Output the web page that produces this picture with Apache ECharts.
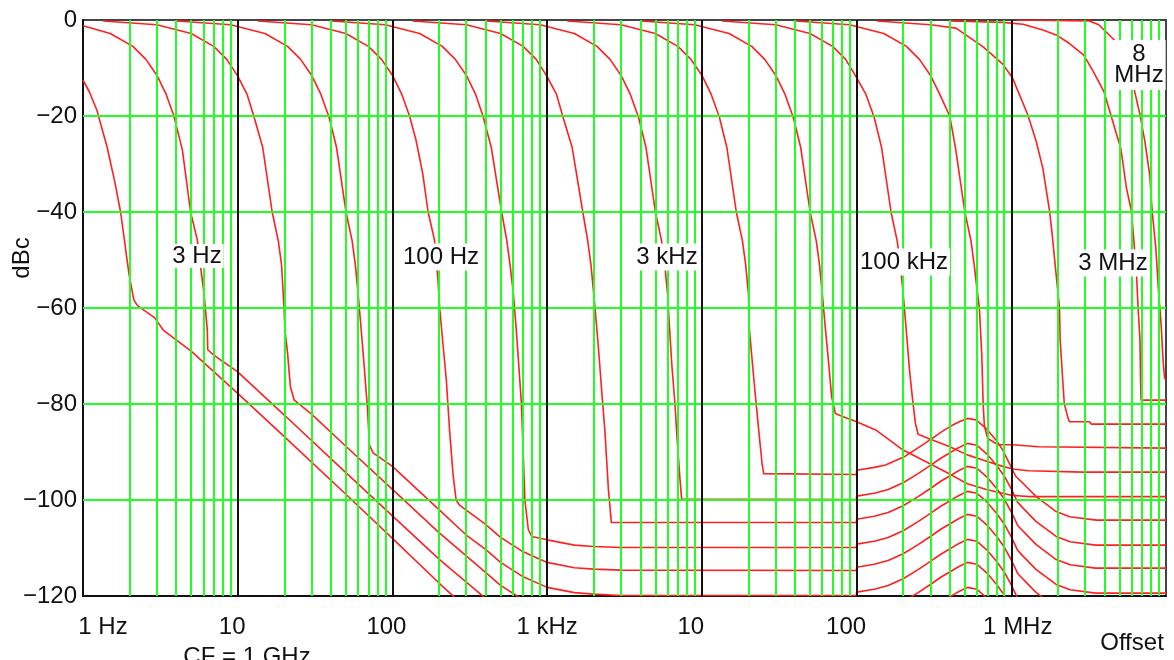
<!DOCTYPE html>
<html><head><meta charset="utf-8">
<script src="https://cdn.jsdelivr.net/npm/echarts@6.0.0/dist/echarts.min.js"></script>
<style>html,body{margin:0;padding:0;background:#fff}#c{width:1174px;height:660px}</style>
</head><body><div id="c"></div>
<script>
// ---- tick labels / grid values ----
const xTickLabels = ['1 Hz', '10', '100', '1 kHz', '10', '100', '1 MHz', ''];
const yTicks = [0, -20, -40, -60, -80, -100, -120];
const hGridValues = [-20, -40, -60, -80, -100];
const decadeStarts = [1, 10, 100, 1e3, 1e4, 1e5, 1e6];
const minorMultipliers = [2, 3, 4, 5, 6, 7, 8, 9];
const majorGridValues = [10, 100, 1e3, 1e4, 1e5, 1e6];

// ---- curves: [offset Hz, dBc] ----
const c1Hz = [[1,-12.5],[1.1,-15],[1.23,-18.8],[1.43,-26.4],[1.6,-33.5],[1.75,-40],[1.98,-52.8],[2.13,-58.3],[2.25,-59.5],[2.9,-62],[3.3,-64.6],[5,-69],[10,-77.8],[20,-86.8],[50,-98.8],[100,-108],[200,-117.3],[300,-122.5]];
const c3Hz = [[1,-1.2],[1.5,-2.8],[2.1,-5.5],[2.55,-8.2],[3,-11.5],[3.45,-15.5],[3.87,-20],[4.39,-27.1],[4.96,-40],[5.48,-45.8],[5.75,-51.4],[6.05,-56.9],[6.36,-64.6],[6.4,-68.7],[7,-69.8],[10,-73.3],[20,-82.3],[50,-94.3],[100,-103.3],[200,-112.3],[400,-120.5],[600,-123.5],[1000,-128.2],[3000,-129.9],[100000,-129.9],[200000,-126.4],[300000,-122.8],[400000,-120.2],[450000,-119.2],[520000,-118.2],[600000,-118.6],[700000,-120.5],[800000,-122.7],[1000000,-127.7],[2000000,-137.6],[10000000,-139.4]];
const c10Hz = [[1.35,-0.2],[3,-1],[5,-2.8],[7,-5.5],[8.5,-8.2],[10,-11.7],[11.5,-15.5],[12.7,-20],[14.5,-26.5],[16.7,-40],[18.3,-46],[19.2,-51],[19.9,-59.7],[20.2,-64.6],[21,-69.4],[21.9,-76.4],[23.2,-79.2],[30,-82.1],[50,-88.8],[100,-97.8],[200,-106.8],[400,-115.1],[500,-117.8],[700,-120.8],[1000,-123],[2000,-124.4],[3000,-124.6],[100000,-124.7],[200000,-121.2],[250000,-119.3],[300000,-117.6],[350000,-116.1],[400000,-115],[450000,-114],[520000,-113],[600000,-113.4],[700000,-115.3],[800000,-117.5],[900000,-119.8],[1000000,-122.5],[1200000,-126.6]];
const c30Hz = [[4.05,-0.2],[9,-1],[15,-2.8],[21,-5.5],[25.5,-8.2],[30,-11.5],[34.5,-15.5],[39,-20.3],[43.5,-26.5],[50.1,-40],[54.9,-46],[57.6,-51],[60,-57],[63,-65],[66,-73],[69,-81],[71,-88.5],[75,-90.2],[100,-93],[200,-102],[300,-107.3],[400,-110.3],[500,-113],[700,-116],[1000,-118.2],[1500,-119.3],[2000,-119.6],[3000,-119.9],[100000,-119.9],[100000,-119.2],[130000,-118.6],[160000,-117.8],[200000,-116.4],[250000,-114.5],[300000,-112.8],[350000,-111.3],[400000,-110.2],[450000,-109.2],[520000,-108.2],[600000,-108.6],[700000,-110.5],[800000,-112.7],[900000,-115],[1000000,-117.7],[1100000,-120.5],[1200000,-121.8],[1450000,-124.5]];
const c100Hz = [[13.5,-0.2],[30,-1],[50,-2.8],[70,-5.5],[85,-8.2],[100,-11.5],[115,-15.5],[129,-20],[142,-25],[157,-32],[170,-40],[187,-45.8],[192,-50],[197,-54.2],[202,-60],[212,-67.4],[223,-75],[234,-85.4],[246,-94.4],[258,-100],[270,-101],[300,-102.1],[400,-105.1],[500,-107.8],[700,-110.8],[1000,-113],[1500,-114.1],[2000,-114.4],[3000,-114.6],[100000,-114.7],[100000,-114],[130000,-113.4],[160000,-112.6],[200000,-111.2],[250000,-109.3],[300000,-107.6],[350000,-106.1],[400000,-105],[450000,-104],[520000,-103],[600000,-103.4],[700000,-105.3],[800000,-107.5],[900000,-109.8],[1000000,-112.5],[1100000,-115.3],[1200000,-116.6],[1450000,-119.3],[1950000,-122.4]];
const c300Hz = [[40.5,-0.2],[90,-1],[150,-2.8],[210,-5.5],[255,-8.2],[300,-11.5],[345,-15.5],[385,-20],[435,-26.5],[508,-40],[549,-46],[576,-51],[605,-57],[632,-64.6],[682,-79.9],[700,-90],[718,-100],[756,-106.2],[795,-107.6],[1000,-108.3],[1500,-109.4],[2000,-109.7],[3000,-109.9],[100000,-109.9],[100000,-109.2],[130000,-108.6],[160000,-107.8],[200000,-106.4],[250000,-104.5],[300000,-102.8],[350000,-101.3],[400000,-100.2],[450000,-99.2],[520000,-98.2],[600000,-98.6],[700000,-100.5],[800000,-102.7],[900000,-105],[1000000,-107.7],[1100000,-110.5],[1200000,-111.8],[1450000,-114.5],[1950000,-117.6],[2400000,-118.7],[3500000,-119.4],[10000000,-119.4]];
const c1kHz = [[135,-0.2],[300,-1],[500,-2.8],[700,-5.5],[850,-8.2],[1000,-11.8],[1150,-15.5],[1260,-20],[1450,-26.5],[1700,-40],[1830,-46],[1920,-51],[2040,-60],[2150,-68.7],[2250,-77.1],[2360,-85.4],[2490,-97.9],[2600,-104.7],[100000,-104.7],[100000,-104],[130000,-103.4],[160000,-102.6],[200000,-101.2],[250000,-99.3],[300000,-97.6],[350000,-96.1],[400000,-95],[450000,-94],[520000,-93],[600000,-93.4],[700000,-95.3],[800000,-97.5],[900000,-99.8],[1000000,-102.5],[1100000,-105.3],[1200000,-106.6],[1450000,-109.3],[1950000,-112.4],[2400000,-113.5],[3500000,-114.2],[10000000,-114.2]];
const c3kHz = [[405,-0.2],[900,-1],[1500,-2.8],[2100,-5.5],[2550,-8.2],[3000,-11.5],[3450,-15.5],[3900,-20.3],[4350,-26.5],[5010,-40],[5490,-46],[5760,-51],[6000,-57],[6150,-63],[6400,-72],[6700,-79.9],[6900,-86.8],[7200,-95.1],[7400,-99.8],[100000,-99.9],[100000,-99.2],[130000,-98.6],[160000,-97.8],[200000,-96.4],[250000,-94.5],[300000,-92.8],[350000,-91.3],[400000,-90.2],[450000,-89.2],[520000,-88.2],[600000,-88.6],[700000,-90.5],[800000,-92.7],[900000,-95],[1000000,-97.7],[1100000,-100.5],[1200000,-101.8],[1450000,-104.5],[1950000,-107.6],[2400000,-108.7],[3500000,-109.4],[10000000,-109.4]];
const c10kHz = [[1350,-0.2],[3000,-1],[5000,-2.8],[7000,-5.5],[8500,-8.2],[10000,-11.5],[11500,-15.5],[13000,-20.3],[14500,-26.5],[16700,-40],[18300,-46],[19200,-51],[20000,-57],[20300,-64.6],[21900,-76.4],[23300,-85.4],[24500,-92.4],[25100,-94.5],[100000,-94.7],[100000,-93.8],[130000,-93.2],[154000,-92.7],[203000,-91],[267000,-88.5],[307000,-87.2],[350000,-85.9],[401000,-84.7],[461000,-83.7],[522000,-83],[591000,-83.3],[687000,-85.1],[797000,-87.5],[881000,-89.6],[973000,-92.4],[1070000,-95.1],[1190000,-96.5],[1450000,-99.3],[1950000,-102.4],[2380000,-103.5],[3550000,-104.2],[10000000,-104.2]];
const c30kHz = [[4050,-0.2],[9000,-1],[15000,-2.8],[21000,-5.5],[25500,-8.2],[30000,-11.5],[34500,-15.5],[39000,-20.3],[43500,-26.5],[50100,-40],[54900,-46],[57600,-51],[60000,-57],[63000,-64.6],[66000,-71.5],[69000,-78.5],[73000,-82],[81000,-82.6],[100000,-83.7],[133000,-85.4],[200000,-89.6],[300000,-92.5],[400000,-94.6],[520000,-96.6],[690000,-97.8],[1000000,-99],[1300000,-99.3],[10000000,-99.3]];
const c100kHz = [[13500,-0.2],[30000,-1],[50000,-2.8],[70000,-5.5],[85000,-8.2],[100000,-12],[115000,-15.5],[130000,-20.3],[145000,-26.5],[167000,-40],[183000,-46],[192000,-51],[200000,-57],[210000,-65],[220000,-73],[230000,-79],[240000,-84],[250000,-86.3],[309000,-87.5],[401000,-88.9],[520000,-90.6],[700000,-92],[900000,-93.1],[1050000,-93.6],[1300000,-93.9],[2900000,-94.2],[10000000,-94.2]];
const c300kHz = [[40500,-0.2],[90000,-1],[150000,-2.8],[210000,-5.5],[255000,-8.2],[300000,-11.5],[345000,-15.5],[400000,-20],[435000,-26.5],[501000,-40],[549000,-46],[576000,-51],[600000,-56],[622000,-60],[645000,-70],[658000,-80],[670000,-84.5],[703000,-87.2],[824000,-88.5],[1020000,-88.5],[1500000,-88.9],[10000000,-89.2]];
const c1MHz = [[135000,-0.2],[300000,-1],[439000,-1.7],[658000,-5.6],[881000,-9.2],[1020000,-12.1],[1280000,-19.8],[1450000,-25.3],[1600000,-30.9],[1770000,-39.9],[1840000,-44.8],[1950000,-53.1],[2050000,-60],[2070000,-66.7],[2150000,-75],[2200000,-79.9],[2330000,-83],[2380000,-83.7],[3200000,-83.7],[3300000,-84.2],[10000000,-84.2]];
const c3MHz = [[405000,-0.2],[881000,-0.5],[1190000,-0.9],[1600000,-2.1],[1950000,-3.1],[2380000,-4.9],[2940000,-7.3],[3400000,-10.8],[3970000,-14.9],[4400000,-19.8],[5100000,-26.7],[5550000,-35],[5990000,-39.9],[6450000,-53.1],[6600000,-60],[6790000,-66.7],[6850000,-75],[6900000,-79.2],[10000000,-79.2]];
const c8MHz = [[1080000,0],[3190000,-0.2],[3680000,-1],[4990000,-5.2],[5600000,-8.7],[6200000,-14.2],[6800000,-19.8],[7300000,-25.3],[7850000,-32.3],[8140000,-39.9],[8600000,-47.6],[8950000,-56.6],[9300000,-63.5],[9570000,-70.8],[9800000,-74.7],[10000000,-74.9]];

const curves = [c1Hz, c3Hz, c10Hz, c30Hz, c100Hz, c300Hz, c1kHz, c3kHz, c10kHz, c30kHz, c100kHz, c300kHz, c1MHz, c3MHz, c8MHz];

// ---- styles ----
const GREEN = '#22ff22';
const RED = '#ff2020';
const FONT = "'Liberation Sans', Arial, sans-serif";
const TXT = '#111';

const minorVals = [];
decadeStarts.forEach(d => minorMultipliers.forEach(m => minorVals.push(d * m)));

const chart = echarts.init(document.getElementById('c'), null, {renderer: 'canvas'});

const rich = {};
const xPads = [[0,0,0,40],[0,11,0,0],[0,12,0,0],[0,0,0,0],[0,22,0,0],[0,21,0,0],[0,0,0,13],[0,0,0,0]];
xPads.forEach((p, i) => { rich['l' + i] = {padding: p, fontSize: 24, fontFamily: FONT, color: TXT}; });

const series = [];
series.push({
  type: 'line', data: [], silent: true, z: 1, animation: false,
  markLine: {
    silent: true, symbol: ['none', 'none'], label: {show: false}, animation: false,
    lineStyle: {color: GREEN, width: 2, type: 'solid'},
    emphasis: {disabled: true},
    data: minorVals.map(v => ({xAxis: v})).concat(hGridValues.map(v => ({yAxis: v})))
  }
});
series.push({
  type: 'line', data: [], silent: true, z: 2, animation: false,
  markLine: {
    silent: true, symbol: ['none', 'none'], label: {show: false}, animation: false,
    lineStyle: {color: '#111', width: 2, type: 'solid'},
    emphasis: {disabled: true},
    data: majorGridValues.map(v => ({xAxis: v}))
  }
});
curves.forEach(c => series.push({
  type: 'line', data: c, showSymbol: false, symbol: 'none', smooth: false, z: 3,
  lineStyle: {color: RED, width: 1.6}, silent: true, animation: false, clip: true
}));

function lbl(text, x, y, pad) {
  return {type: 'text', x: x, y: y, z: 100,
    style: {text: text, font: '24px ' + FONT, fill: TXT, align: 'center', verticalAlign: 'middle',
      textAlign: 'center', textVerticalAlign: 'middle', backgroundColor: '#fff', padding: pad || [3, 2, 3, 2], lineHeight: 21}};
}

chart.setOption({
  animation: false,
  backgroundColor: '#fff',
  grid: {left: 83, top: 20, width: 1083, height: 576, show: true, borderColor: '#444', borderWidth: 2, backgroundColor: 'transparent', containLabel: false},
  xAxis: {
    type: 'log', logBase: 10, min: 1, max: 1e7,
    axisLine: {show: true, onZero: false, lineStyle: {color: '#111', width: 2}},
    axisTick: {show: false}, splitLine: {show: false}, minorTick: {show: false},
    axisLabel: {
      margin: 19, fontSize: 24, fontFamily: FONT, color: TXT, showMaxLabel: false,
      formatter: function (v) { const i = Math.round(Math.log10(v)); const t = xTickLabels[i]; return t ? '{l' + i + '|' + t + '}' : ''; },
      rich: rich
    }
  },
  yAxis: {
    type: 'value', min: yTicks[yTicks.length - 1], max: yTicks[0], interval: 20,
    axisLine: {show: true, onZero: false, lineStyle: {color: '#111', width: 2}},
    axisTick: {show: false}, splitLine: {show: false},
    axisLabel: {margin: 6, fontSize: 24, fontFamily: FONT, color: TXT,
      formatter: v => v === 0 ? '0' : '\u2212' + Math.abs(v)}
  },
  series: series,
  graphic: [
    {type: 'text', x: 22, y: 258, rotation: Math.PI / 2, z: 100,
      style: {text: 'dBc', font: '24px ' + FONT, fill: TXT, align: 'center', verticalAlign: 'middle', textAlign: 'center', textVerticalAlign: 'middle'}},
    {type: 'text', x: 247, y: 657, z: 100,
      style: {text: 'CF = 1 GHz', font: '24px ' + FONT, fill: TXT, align: 'center', verticalAlign: 'middle', textAlign: 'center', textVerticalAlign: 'middle'}},
    {type: 'text', x: 1132, y: 643, z: 100,
      style: {text: 'Offset', font: '24px ' + FONT, fill: TXT, align: 'center', verticalAlign: 'middle', textAlign: 'center', textVerticalAlign: 'middle'}},
    lbl('3 Hz', 197, 256, [2, 2, 1, 2]),
    lbl('100 Hz', 441, 257, [3, 2, 3, 2]),
    lbl('3 kHz', 667, 257, [3, 2, 3, 2]),
    lbl('100 kHz', 904, 262, [3, 2, 3, 2]),
    lbl('3 MHz', 1113, 263, [3, 2, 3, 2]),
    lbl('8\nMHz', 1139, 65, [4, 2, 4, 2])
  ]
});
</script></body></html>
